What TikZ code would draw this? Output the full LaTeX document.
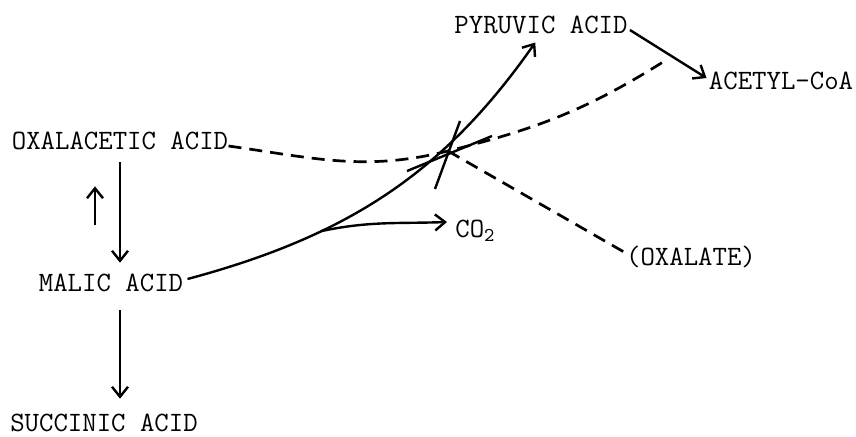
\documentclass[tikz,border=0pt]{standalone}
\usetikzlibrary{arrows.meta}

\begin{document}
\begin{tikzpicture}[
  x=0.5pt, y=0.5pt,
  acid/.style={
    font=\fontsize{14}{16}\selectfont\ttfamily,
    inner sep=0pt
  },
  flow/.style={
    line width=1.2pt,
    -{Straight Barb[length=5pt,width=8pt]}
  },
  route/.style={
    line width=1.35pt,
    dash pattern=on 6.5pt off 4pt
  },
  barmark/.style={
    line width=1.2pt
  }
]
\useasboundingbox (0,0) rectangle (856,-436);

\node[acid] (pyr) at (541,-25) {PYRUVIC ACID};
\node[acid] (acc) at (781,-81) {ACETYL-CoA};
\node[acid] (oxa) at (120,-141) {OXALACETIC ACID};
\node[acid] (mal) at (111,-283) {MALIC ACID};
\node[acid] (suc) at (104,-423) {SUCCINIC ACID};
\node[acid, anchor=base west] (co2) at (455,-237) {CO\textsubscript{2}};
\node[acid] (oxl) at (691,-257) {(OXALATE)};

\coordinate (x) at (448,-151);
\coordinate (acend) at (663,-62);

\draw[flow, shorten <=6pt, shorten >=5.5pt] (oxa.south) -- (oxa.south |- mal.north);
\draw[flow] ([xshift=-12.5pt,yshift=-37.5pt]oxa.south) -- ([xshift=-12.5pt,yshift=-18pt]oxa.south);
\draw[flow, shorten <=9pt, shorten >=7.5pt] (oxa.south |- mal.south) -- (oxa.south |- suc.north);

\draw[flow, shorten >=5pt] ([xshift=2pt,yshift=2pt]mal.east) to[out=15,in=-125]
  node[coordinate, pos=0.31] (br) {} (pyr.south);
\draw[flow] (br) to[out=12,in=182] ([xshift=-4pt,yshift=7.5pt]co2.base west);
\draw[flow] ([xshift=1pt,yshift=-2.5pt]pyr.east) -- ([xshift=-1pt,yshift=1.5pt]acc.west);

\draw[route] ([yshift=-2.5pt]oxa.east) to[out=-8,in=194] (x) to[out=14,in=212] (acend);
\draw[route] (x) -- ([yshift=2pt]oxl.west);

\draw[barmark] ([shift={(-6.5pt,-19pt)}]x) -- ([shift={(6pt,15pt)}]x);
\draw[barmark] ([shift={(-20.5pt,-10pt)}]x) -- ([shift={(22pt,7.5pt)}]x);

\end{tikzpicture}
\end{document}
